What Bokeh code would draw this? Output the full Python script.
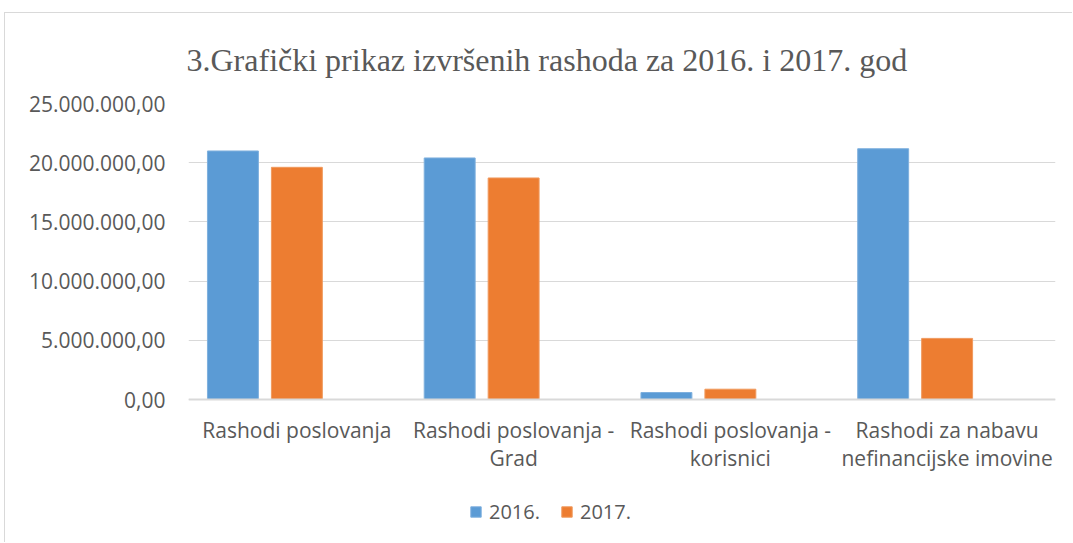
from bokeh.plotting import figure
from bokeh.models import FactorRange, Range1d, ColumnDataSource, Legend, LegendItem
from bokeh.transform import dodge
from bokeh.embed import file_html
from bokeh.resources import INLINE

title_text = "3.Grafički prikaz  izvršenih rashoda  za  2016. i 2017. god"
categories = ["Rashodi poslovanja", "Rashodi poslovanja -\nGrad",
              "Rashodi poslovanja -\nkorisnici", "Rashodi za nabavu\nnefinancijske imovine"]
series_names = ["2016.", "2017."]
values_2016 = [20_990_000, 20_400_000, 590_000, 21_180_000]
values_2017 = [19_610_000, 18_710_000, 870_000, 5_160_000]
y_ticks = [0, 5_000_000, 10_000_000, 15_000_000, 20_000_000, 25_000_000]

def fmt(v):
    s = f"{v:,.2f}"
    return s.replace(",", "X").replace(".", ",").replace("X", ".")

src = ColumnDataSource(dict(cat=categories, v2016=values_2016, v2017=values_2017))

TEXT = "#595959"
FONT = "Open Sans"

# frame spans 103..543 on the page; value 0 sits at 399, 25M at 103
y_max = 25_000_000
y_min = -y_max * (543 - 399) / (399 - 103)

p = figure(width=1068, height=530, output_backend="svg", toolbar_location=None,
           x_range=FactorRange(factors=categories, range_padding=0),
           y_range=Range1d(y_min, y_max),
           min_border_left=183, min_border_right=18, min_border_top=90, min_border_bottom=0)
p.styles = {"margin-left": "4px", "margin-top": "12px",
            "border-left": "1px solid #d9d9d9", "border-top": "1px solid #d9d9d9"}

p.title.text = title_text
p.title.text_font = "Liberation Serif"
p.title.text_font_size = "32px"
p.title.text_font_style = "normal"
p.title.text_color = TEXT
p.title.align = "left"
p.title.offset = -2
p.title.standoff = 51

p.outline_line_color = None

r1 = p.vbar(x=dodge("cat", -0.295, range=p.x_range), top="v2016", width=0.235, source=src,
            fill_color="#5B9BD5", line_color="#7FB0DE", line_width=1)
r2 = p.vbar(x=dodge("cat", 0.0, range=p.x_range), top="v2017", width=0.235, source=src,
            fill_color="#ED7D31", line_color="#F09A5E", line_width=1)

# axes
p.xaxis.fixed_location = 0
p.xaxis.axis_line_color = "#d9d9d9"
p.xaxis.axis_line_width = 2
p.xaxis.major_tick_line_color = None
p.xaxis.minor_tick_line_color = None
p.xaxis.major_tick_out = 0
p.xaxis.major_label_standoff = 16
p.xaxis.major_label_text_font = FONT
p.xaxis.major_label_text_font_size = "21px"
p.xaxis.major_label_text_color = TEXT
p.xaxis.major_label_text_line_height = 1.0

p.yaxis.ticker = y_ticks
p.yaxis.major_label_overrides = {t: fmt(t) for t in y_ticks}
p.yaxis.axis_line_color = None
p.yaxis.major_tick_line_color = None
p.yaxis.minor_tick_line_color = None
p.yaxis.major_tick_out = 0
p.yaxis.major_label_standoff = 23
p.yaxis.major_label_text_font = FONT
p.yaxis.major_label_text_font_size = "21px"
p.yaxis.major_label_text_color = TEXT

p.xgrid.grid_line_color = None
p.ygrid.grid_line_color = "#d9d9d9"
p.ygrid.grid_line_width = 1

legend = Legend(items=[LegendItem(label=series_names[0], renderers=[r1]),
                       LegendItem(label=series_names[1], renderers=[r2])],
                orientation="horizontal", location=(281, 18),
                glyph_width=13, glyph_height=13, label_standoff=7, spacing=20,
                padding=0, margin=0, border_line_color=None, background_fill_alpha=0,
                label_text_font=FONT, label_text_font_size="20px", label_text_color=TEXT)
p.add_layout(legend, "center")

open("out.html", "w").write(file_html(p, INLINE))
